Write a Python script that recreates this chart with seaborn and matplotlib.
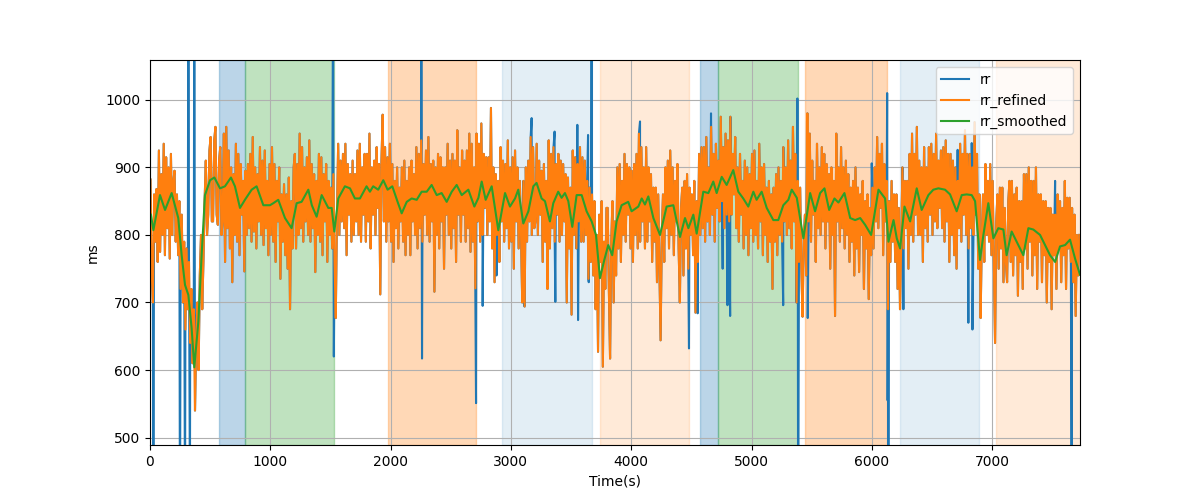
import numpy as np
import pandas as pd
import matplotlib
matplotlib.use("Agg")
import matplotlib.pyplot as plt
import seaborn as sns

# ---------------- data ----------------
# rr_refined sampled every 10 s starting at 4 s (one row = 200 s)
rr_refined_rows = [
    [882, 745, 700, 860, 790, 868, 760, 925, 775, 890, 800, 935, 770, 915, 810, 900, 765, 920, 800, 880],
    [895, 790, 860, 770, 850, 720, 830, 700, 790, 660, 780, 690, 760, 640, 720, 610, 690, 540, 650, 700],
    [600, 740, 800, 690, 760, 850, 910, 800, 830, 925, 945, 820, 820, 940, 960, 830, 815, 910, 930, 800],
    [820, 950, 760, 960, 810, 925, 780, 900, 730, 890, 800, 935, 790, 920, 770, 905, 830, 880, 746, 895],
    [800, 905, 810, 920, 790, 945, 805, 900, 780, 890, 820, 930, 800, 910, 785, 925, 810, 880, 770, 905],
    [800, 930, 790, 905, 760, 880, 820, 900, 735, 860, 790, 875, 770, 860, 750, 885, 690, 850, 780, 900],
    [920, 780, 905, 800, 950, 810, 930, 790, 900, 820, 915, 800, 940, 790, 905, 810, 890, 745, 880, 800],
    [920, 790, 915, 770, 890, 820, 905, 760, 880, 800, 870, 780, 890, 760, 677, 830, 935, 800, 910, 820],
    [920, 810, 935, 770, 905, 830, 890, 790, 910, 800, 890, 820, 925, 800, 935, 790, 900, 830, 920, 790],
    [920, 820, 950, 780, 900, 830, 910, 800, 930, 840, 905, 712, 910, 978, 820, 930, 790, 915, 820, 935],
    [790, 905, 760, 880, 810, 900, 780, 870, 820, 900, 790, 910, 770, 880, 800, 900, 770, 910, 820, 890],
    [800, 930, 780, 920, 810, 940, 790, 905, 830, 925, 800, 945, 790, 905, 820, 910, 716, 900, 800, 920],
    [780, 915, 820, 900, 750, 900, 830, 935, 800, 910, 780, 920, 810, 910, 760, 955, 830, 900, 790, 925],
    [830, 910, 790, 925, 810, 950, 775, 935, 790, 900, 721, 950, 820, 935, 790, 965, 800, 920, 840, 915],
    [800, 915, 820, 988, 780, 900, 730, 890, 800, 880, 760, 930, 820, 910, 790, 905, 810, 940, 780, 900],
    [790, 915, 750, 925, 820, 900, 780, 880, 800, 700, 880, 694, 900, 790, 910, 820, 945, 800, 930, 810],
    [820, 935, 800, 910, 830, 895, 760, 905, 790, 880, 720, 940, 780, 920, 810, 930, 790, 905, 830, 920],
    [790, 910, 800, 905, 820, 890, 700, 885, 780, 870, 682, 925, 800, 915, 780, 905, 820, 930, 790, 915],
    [790, 910, 800, 880, 735, 870, 760, 860, 740, 850, 690, 800, 627, 830, 760, 850, 605, 790, 720, 840],
    [840, 720, 617, 790, 850, 700, 820, 740, 900, 780, 905, 760, 880, 800, 920, 790, 905, 830, 900, 780],
    [895, 760, 905, 800, 920, 780, 950, 790, 930, 820, 900, 780, 930, 790, 900, 820, 890, 760, 870, 790],
    [870, 730, 860, 750, 644, 800, 860, 760, 900, 810, 910, 780, 925, 800, 900, 770, 880, 820, 905, 780],
    [700, 840, 870, 740, 880, 780, 890, 750, 870, 800, 860, 770, 880, 685, 850, 760, 920, 800, 930, 810],
    [930, 790, 945, 820, 900, 800, 960, 830, 920, 790, 935, 840, 910, 820, 975, 850, 930, 810, 950, 830],
    [940, 820, 975, 830, 920, 860, 945, 810, 900, 790, 920, 830, 880, 780, 910, 800, 900, 770, 890, 810],
    [920, 790, 925, 800, 880, 780, 935, 820, 900, 770, 905, 800, 870, 760, 880, 790, 860, 720, 870, 790],
    [890, 770, 900, 800, 880, 790, 930, 820, 900, 800, 940, 810, 910, 780, 960, 820, 920, 700, 880, 760],
    [870, 750, 679, 800, 830, 740, 980, 820, 950, 790, 910, 830, 880, 760, 935, 810, 900, 800, 930, 820],
    [920, 780, 905, 820, 890, 750, 900, 800, 880, 680, 950, 820, 900, 790, 930, 810, 900, 780, 910, 800],
    [890, 760, 870, 790, 880, 740, 900, 780, 870, 745, 860, 800, 880, 720, 850, 780, 860, 705, 840, 770],
    [870, 780, 900, 820, 945, 810, 920, 840, 935, 770, 905, 820, 880, 690, 850, 760, 880, 790, 860, 760],
    [860, 720, 840, 690, 790, 900, 780, 880, 810, 880, 750, 920, 800, 950, 790, 920, 830, 960, 800, 910],
    [800, 900, 760, 930, 810, 900, 790, 930, 830, 935, 800, 920, 820, 950, 810, 910, 840, 925, 810, 930],
    [790, 940, 820, 920, 760, 920, 800, 910, 770, 900, 750, 880, 810, 935, 790, 920, 830, 955, 800, 920],
    [780, 920, 810, 900, 800, 967, 830, 920, 750, 860, 677, 800, 860, 760, 905, 800, 880, 790, 905, 770],
    [880, 760, 640, 820, 860, 750, 870, 780, 870, 730, 840, 760, 730, 850, 880, 760, 880, 740, 860, 770],
    [870, 710, 850, 760, 850, 720, 890, 780, 890, 750, 900, 790, 880, 740, 880, 770, 900, 720, 860, 790],
    [860, 730, 850, 770, 850, 700, 840, 760, 840, 690, 830, 770, 830, 720, 860, 780, 850, 730, 840, 770],
    [880, 720, 855, 780, 855, 760, 840, 730, 830, 680, 800, 740, 800],
]
t_start = 4.0
t_step = 10.0

# raw rr artefacts (beats that were corrected in rr_refined)
outlier_t = [28, 249, 291, 319, 332, 368, 1522, 1528, 2255, 2261, 2710, 2765,
             2880, 3110, 3172, 3363, 3369, 3552, 3558, 3641, 3647, 3671,
             4073, 4480, 4552, 4663, 4760, 4800, 4822, 5263, 5381, 5387,
             5461, 5467, 5999, 6127, 6131, 6137, 6262, 6713, 6802, 6830,
             6836, 7523, 7661]
outlier_v = [300, 350, 380, 1300, 420, 1250, 1200, 620, 1150, 617, 551, 695,
             740, 695, 973, 953, 701, 963, 674, 948, 730, 1200,
             968, 632, 684, 980, 750, 696, 680, 696, 1002, 350,
             968, 677, 906, 1010, 555, 400, 690, 926, 670, 936,
             660, 880, 350]

# rr_smoothed read at irregular times
t_smoothed = [8, 28, 83, 125, 180, 235, 263, 291, 319, 346, 368, 402, 429, 457,
              499, 535, 582, 623, 673, 706, 748, 789, 845, 886, 942, 997, 1025,
              1066, 1122, 1177, 1219, 1260, 1316, 1345, 1385, 1427, 1482, 1510,
              1532, 1565, 1620, 1662, 1703, 1745, 1800, 1828, 1855, 1897, 1939,
              1975, 2014, 2058, 2092, 2134, 2175, 2217, 2258, 2300, 2341, 2383,
              2424, 2466, 2508, 2549, 2591, 2646, 2696, 2730, 2757, 2790, 2840,
              2895, 2951, 2992, 3034, 3061, 3103, 3145, 3186, 3213, 3255, 3283,
              3324, 3352, 3393, 3421, 3449, 3477, 3510, 3546, 3588, 3629, 3671,
              3707, 3740, 3776, 3809, 3842, 3878, 3920, 3975, 4003, 4059, 4087,
              4114, 4142, 4184, 4239, 4294, 4350, 4405, 4447, 4475, 4516, 4544,
              4599, 4641, 4682, 4710, 4752, 4793, 4848, 4890, 4931, 4973, 5015,
              5042, 5084, 5126, 5181, 5222, 5264, 5306, 5334, 5376, 5431, 5487,
              5528, 5570, 5606, 5645, 5689, 5722, 5772, 5820, 5861, 5903, 5944,
              5994, 6055, 6110, 6138, 6180, 6207, 6235, 6271, 6318, 6373, 6414,
              6470, 6511, 6553, 6608, 6650, 6705, 6747, 6788, 6830, 6858, 6899,
              6927, 6968, 7010, 7051, 7093, 7120, 7162, 7204, 7259, 7301, 7342,
              7398, 7440, 7481, 7523, 7564, 7606, 7647, 7689, 7730]
rr_smoothed = [830, 807, 859, 837, 862, 825, 770, 726, 711, 662, 604, 672, 770, 859,
               881, 885, 869, 872, 885, 872, 840, 852, 867, 872, 844, 844, 847,
               852, 825, 810, 847, 849, 867, 844, 827, 859, 840, 840,
               805, 854, 872, 869, 854, 854, 872, 864, 872, 867, 881,
               867, 872, 849, 832, 849, 854, 852, 864, 864, 874, 859,
               862, 849, 864, 874, 859, 867, 842, 855, 879, 852, 872,
               807, 862, 842, 854, 867, 817, 835, 872, 877, 854, 850,
               820, 847, 864, 855, 862, 850, 812, 859, 859, 835, 820,
               800, 736, 763, 785, 770, 820, 844, 849, 835, 842, 854,
               845, 857, 825, 800, 842, 844, 797, 825, 810, 830, 802,
               864, 862, 879, 862, 886, 874, 896, 864, 854, 842, 864,
               852, 864, 840, 822, 822, 844, 852, 867, 855, 795, 862,
               835, 862, 869, 837, 854, 848, 862, 825, 822, 825, 815,
               800, 867, 854, 790, 822, 795, 780, 842, 820, 869, 837,
               859, 867, 869, 867, 860, 835, 859, 860, 859, 850, 763,
               800, 847, 795, 810, 808, 770, 805, 790, 770, 810, 808,
               800, 785, 770, 760, 783, 785, 793, 765, 741]

# shaded segments
span_start = [574, 792, 1978, 2926, 3741, 4575, 4724, 5447, 6234, 7032]
span_end = [792, 1527, 2710, 3671, 4480, 4724, 5387, 6129, 6888, 7760]
span_color = ["C0", "C2", "C1", "C0", "C1", "C0", "C2", "C1", "C0", "C1"]
span_alpha = [0.3, 0.3, 0.3, 0.12, 0.16, 0.3, 0.3, 0.3, 0.12, 0.16]

# ---------------- build tables ----------------
rr_refined = [v for row in rr_refined_rows for v in row]
t_refined = t_start + t_step * np.arange(len(rr_refined))
df_ref = pd.DataFrame({"t": t_refined, "v": rr_refined})
df_out = pd.DataFrame({"t": np.asarray(outlier_t, float), "v": outlier_v})
df_rr = (pd.concat([df_ref, df_out]).drop_duplicates("t")
         .sort_values("t").reset_index(drop=True))
df_sm = pd.DataFrame({"t": t_smoothed, "v": rr_smoothed})

# ---------------- plot ----------------
fig, ax = plt.subplots(figsize=(12, 5), dpi=100)

for s, e, c, a in zip(span_start, span_end, span_color, span_alpha):
    ax.axvspan(s, e, color=c, alpha=a)

sns.lineplot(data=df_rr, x="t", y="v", ax=ax, color="C0", label="rr",
             estimator=None, sort=False, linewidth=1.5)
sns.lineplot(data=df_ref, x="t", y="v", ax=ax, color="C1", label="rr_refined",
             estimator=None, sort=False, linewidth=1.5)
sns.lineplot(data=df_sm, x="t", y="v", ax=ax, color="C2", label="rr_smoothed",
             estimator=None, sort=False, linewidth=1.5)

ax.set_xlim(0, 7730)
ax.set_ylim(489, 1059)
ax.grid(True)
ax.set_xlabel("Time(s)")
ax.set_ylabel("ms")
ax.legend(loc="upper right")

fig.savefig("out.png", dpi=100)
